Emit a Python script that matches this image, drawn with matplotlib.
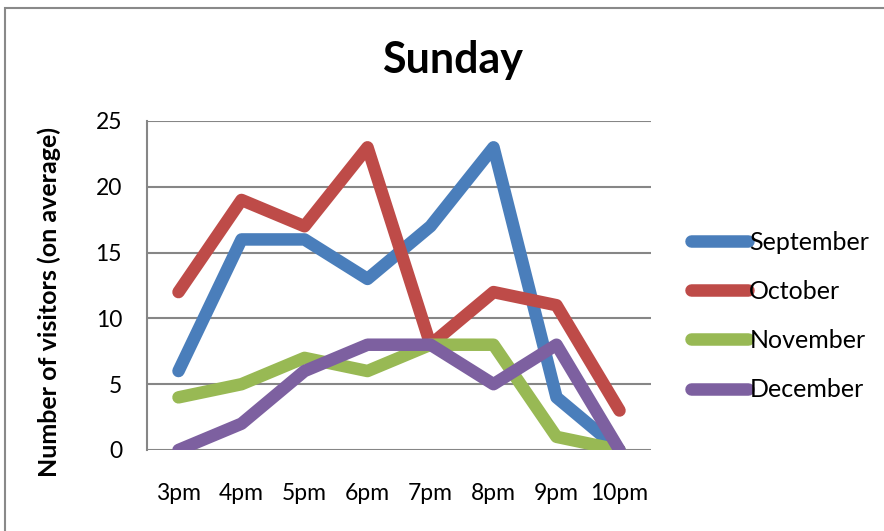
import matplotlib
matplotlib.use("Agg")
import matplotlib.pyplot as plt
from matplotlib.lines import Line2D
from matplotlib.patches import Rectangle

hours = ["3pm", "4pm", "5pm", "6pm", "7pm", "8pm", "9pm", "10pm"]
september = [6, 16, 16, 13, 17, 23, 4, 0]
october = [12, 19, 17, 23, 8, 12, 11, 3]
november = [4, 5, 7, 6, 8, 8, 1, 0]
december = [0, 2, 6, 8, 8, 5, 8, 0]

series = [("September", september, "#4a7ebb"),
          ("October", october, "#be4b48"),
          ("November", november, "#98b954"),
          ("December", december, "#7d60a0")]

plt.rcParams["font.family"] = ["Lato", "DejaVu Sans"]

fig = plt.figure(figsize=(8.84, 5.31), dpi=100)
fig.patches.append(Rectangle((5 / 884, -0.05), 1.2, 1 - 8 / 531 + 0.05,
                             transform=fig.transFigure, fill=False,
                             edgecolor="#898989", linewidth=1.5))

ax = fig.add_axes([147 / 884, 81 / 531, 504 / 884, 329 / 531])
x = range(len(hours))
for name, vals, col in series:
    ax.plot(x, vals, color=col, linewidth=9, solid_capstyle="round",
            solid_joinstyle="round", label=name)

ax.set_xlim(-0.5, len(hours) - 0.5)
ax.set_ylim(0, 25)
ax.set_yticks([0, 5, 10, 15, 20, 25])
ax.set_xticks(list(x))
ax.set_xticklabels(hours)
ax.tick_params(length=0, labelsize=16.5, colors="black")
ax.tick_params(axis="y", pad=18)
ax.tick_params(axis="x", pad=24)
ax.grid(axis="y", color="#868686", linewidth=1.5)
ax.set_axisbelow(True)
for s in ["top", "right", "bottom"]:
    ax.spines[s].set_visible(False)
ax.spines["left"].set_color("#868686")
ax.spines["left"].set_linewidth(1.5)

ax.set_ylabel("Number of visitors (on average)", fontsize=18,
              fontweight="bold")
ax.yaxis.set_label_coords(-0.17, 0.45)
fig.text(452 / 884, 1 - 60 / 531, "Sunday", fontsize=31, fontweight="bold",
         ha="center", va="center")

handles = [Line2D([], [], color=c, linewidth=9, solid_capstyle="round")
           for _, _, c in series]
fig.legend(handles, [n for n, _, _ in series], loc="center left",
           bbox_to_anchor=(668 / 884, 1 - 316 / 531), frameon=False,
           fontsize=18, handlelength=2.3, handletextpad=0.05,
           labelspacing=1.05)

fig.savefig("out.png", dpi=100)
